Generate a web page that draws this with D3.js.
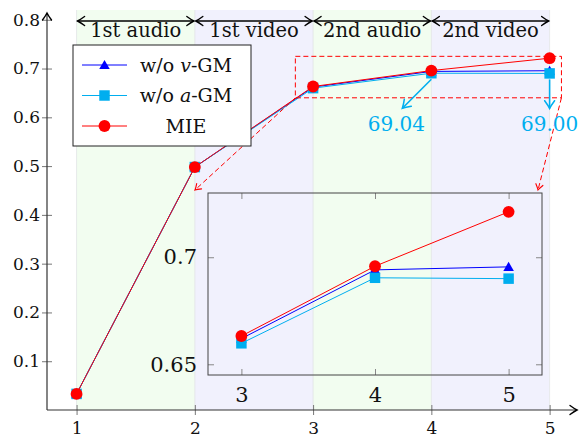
<!DOCTYPE html>
<html lang="en">
<head>
<meta charset="UTF-8">
<title>Ablation stages</title>
<script src="https://d3js.org/d3.v7.min.js"></script>
<style>
    body, html {
        margin: 0;
        padding: 0;
        background: #fff;
    }
    svg text {
        font-family: 'DejaVu Serif', serif;
        fill: #111;
    }
</style>
</head>
<body>
<script>
    'use strict'

    // data
    const stages = [1, 2, 3, 4, 5]
    const stageNames = ['1st audio', '1st video', '2nd audio', '2nd video']
    const woV = [0.033, 0.498, 0.662, 0.6941, 0.6955]
    const woA = [0.033, 0.498, 0.6598, 0.6904, 0.6900]
    const mie = [0.033, 0.498, 0.6632, 0.6958, 0.7212]
    const yTicks = [0.1, 0.2, 0.3, 0.4, 0.5, 0.6, 0.7, 0.8]
    const insetStages = [3, 4, 5]
    const insetYTicks = [0.65, 0.7]
    const notes = [{stage: 4, value: 0.6904, label: '69.04'}, {stage: 5, value: 0.6900, label: '69.00'}]
    const zoomBox = {x0: 2.85, x1: 5.1, y0: 0.64, y1: 0.725}

    const W = 579, H = 435
    const BLUE = '#0000ff', CYAN = '#00aeef', RED = '#ff0000'

    const series = [
        {name: 'v', values: woV, color: BLUE, shape: d3.symbolTriangle, size: 48},
        {name: 'a', values: woA, color: CYAN, shape: d3.symbolSquare, size: 110},
        {name: 'MIE', values: mie, color: RED, shape: d3.symbolCircle, size: 110}
    ]

    const svg = d3.select('body').append('svg')
        .attr('width', W)
        .attr('height', H)

    const defs = svg.append('defs')
    function addTip(id, color, s) {
        defs.append('marker')
            .attr('id', id)
            .attr('markerUnits', 'userSpaceOnUse')
            .attr('viewBox', '-10 -6 12 12')
            .attr('markerWidth', 12 * s).attr('markerHeight', 12 * s)
            .attr('refX', 0).attr('refY', 0)
            .attr('orient', 'auto-start-reverse')
            .append('path')
            .attr('d', 'M-7,-4.5 Q-2.5,-1.2 0,0 Q-2.5,1.2 -7,4.5')
            .attr('fill', 'none')
            .attr('stroke', color)
            .attr('stroke-width', 1.4)
            .attr('stroke-linecap', 'round')
    }
    addTip('tipK', '#000', 1)
    addTip('tipC', CYAN, 1.1)
    addTip('tipR', RED, 0.8)

    // main scales
    const x = d3.scaleLinear().domain([0.75, 5.24]).range([47, 578])
    const y = d3.scaleLinear().domain([0, 0.82]).range([410, 10])

    // inset scales
    const xi = d3.scaleLinear().domain([2.75, 5.25]).range([208, 542])
    const yi = d3.scaleLinear().domain([0.645, 0.73]).range([375, 193])

    //background bands
    const bands = svg.append('g')
    bands.selectAll('rect')
        .data(stageNames)
        .enter()
        .append('rect')
        .attr('x', (d, i) => x(stages[i]))
        .attr('width', (d, i) => x(stages[i + 1]) - x(stages[i]))
        .attr('y', y(0.82))
        .attr('height', y(0) - y(0.82))
        .attr('fill', (d, i) => i % 2 === 0 ? '#f2fdf0' : '#f1f1fd')
    bands.selectAll('line')
        .data(stages)
        .enter()
        .append('line')
        .attr('x1', d => x(d)).attr('x2', d => x(d))
        .attr('y1', y(0.82)).attr('y2', y(0))
        .attr('stroke', '#e2e4e6')
        .attr('stroke-width', 0.8)

    // series lines and markers
    function drawSeries(g, sx, sy, xs) {
        series.forEach(s => {
            const pts = xs.map(v => [v, s.values[stages.indexOf(v)]])
            g.append('path')
                .datum(pts)
                .attr('fill', 'none')
                .attr('stroke', s.color)
                .attr('stroke-width', 1)
                .attr('d', d3.line().x(d => sx(d[0])).y(d => sy(d[1])))
            g.selectAll(null)
                .data(pts)
                .enter()
                .append('path')
                .attr('transform', d => `translate(${sx(d[0])},${sy(d[1]) + (s.shape === d3.symbolTriangle ? 1 : 0)})`)
                .attr('d', d3.symbol().type(s.shape).size(s.size))
                .attr('fill', s.color)
        })
    }
    drawSeries(svg.append('g'), x, y, stages)

    // zoom box and connectors
    svg.append('rect')
        .attr('x', x(zoomBox.x0))
        .attr('y', y(zoomBox.y1))
        .attr('width', x(zoomBox.x1) - x(zoomBox.x0))
        .attr('height', y(zoomBox.y0) - y(zoomBox.y1))
        .attr('fill', 'none')
        .attr('stroke', RED)
        .attr('stroke-dasharray', '5,3')
    const connectors = [
        [[x(zoomBox.x0), y(zoomBox.y0)], [xi.range()[0] - 13, yi.range()[1] - 3]],
        [[x(zoomBox.x1), y(zoomBox.y0)], [xi.range()[1] - 4, yi.range()[1] - 3]]
    ]
    svg.selectAll(null)
        .data(connectors)
        .enter()
        .append('line')
        .attr('x1', d => d[0][0]).attr('y1', d => d[0][1])
        .attr('x2', d => d[1][0]).attr('y2', d => d[1][1])
        .attr('stroke', RED)
        .attr('stroke-dasharray', '5,3')
        .attr('marker-end', 'url(#tipR)')

    // inset
    const inset = svg.append('g')
    drawSeries(inset, xi, yi, insetStages)

    function insetAxis(axis, tf, labels) {
        const g = inset.append('g')
            .attr('transform', tf)
            .call(axis)
        g.select('.domain').remove()
        g.selectAll('.tick line').attr('stroke', '#888')
        g.selectAll('text')
            .attr('font-family', null)
            .attr('font-size', 21)
        if (!labels) g.selectAll('text').remove()
    }
    insetAxis(d3.axisBottom(xi).tickValues(insetStages).tickFormat(d3.format('d')).tickSize(-6).tickPadding(12),
        `translate(0,${yi.range()[0]})`, true)
    insetAxis(d3.axisTop(xi).tickValues(insetStages).tickSize(-6),
        `translate(0,${yi.range()[1]})`, false)
    insetAxis(d3.axisLeft(yi).tickValues(insetYTicks).tickFormat(d => d === 0.7 ? '0.7' : '0.65').tickSize(-6).tickPadding(11),
        `translate(${xi.range()[0]},0)`, true)
    insetAxis(d3.axisRight(yi).tickValues(insetYTicks).tickSize(-6),
        `translate(${xi.range()[1]},0)`, false)
    inset.append('rect')
        .attr('x', xi.range()[0])
        .attr('y', yi.range()[1])
        .attr('width', xi.range()[1] - xi.range()[0])
        .attr('height', yi.range()[0] - yi.range()[1])
        .attr('fill', 'none')
        .attr('stroke', '#444')
        .attr('stroke-width', 1)

    // stage brackets on top
    const brackets = svg.append('g')
    brackets.selectAll('line')
        .data(stageNames)
        .enter()
        .append('line')
        .attr('x1', (d, i) => x(stages[i]) + 1)
        .attr('x2', (d, i) => x(stages[i + 1]) - 1)
        .attr('y1', 21).attr('y2', 21)
        .attr('stroke', '#000')
        .attr('stroke-width', 1.4)
        .attr('marker-start', 'url(#tipK)')
        .attr('marker-end', 'url(#tipK)')
    brackets.selectAll('text')
        .data(stageNames)
        .enter()
        .append('text')
        .text(d => d)
        .attr('x', (d, i) => (x(stages[i]) + x(stages[i + 1])) / 2)
        .attr('y', 37)
        .attr('text-anchor', 'middle')
        .attr('font-size', 19.5)

    // cyan value notes
    const noteG = svg.append('g')
    notes.forEach((n, i) => {
        const px = x(n.stage), py = y(n.value)
        const dx = i === 0 ? -29 : 0
        noteG.append('line')
            .attr('x1', px).attr('y1', py + 6)
            .attr('x2', px + dx).attr('y2', py + 35)
            .attr('stroke', CYAN)
            .attr('stroke-width', 1.6)
            .attr('marker-end', 'url(#tipC)')
        noteG.append('text')
            .text(n.label)
            .attr('x', px + dx - (i === 0 ? 6 : 0))
            .attr('y', py + 58)
            .attr('text-anchor', 'middle')
            .attr('font-size', 20)
            .style('fill', CYAN)
    })

    // legend
    const legend = svg.append('g')
    legend.append('rect')
        .attr('x', 73).attr('y', 45)
        .attr('width', 178).attr('height', 101)
        .attr('fill', '#fff')
        .attr('stroke', '#222')
        .attr('stroke-width', 1)
    series.forEach((s, i) => {
        const ly = 65 + i * 30.5
        legend.append('line')
            .attr('x1', 82).attr('x2', 127)
            .attr('y1', ly).attr('y2', ly)
            .attr('stroke', s.color)
        legend.append('path')
            .attr('transform', `translate(104.5,${ly + (s.shape === d3.symbolTriangle ? 1 : 0)})`)
            .attr('d', d3.symbol().type(s.shape).size(s.size))
            .attr('fill', s.color)
        const t = legend.append('text')
            .attr('x', 186).attr('y', ly + 6.5)
            .attr('text-anchor', 'middle')
            .attr('font-size', 19)
        if (s.name === 'MIE') {
            t.text('MIE')
        } else {
            t.append('tspan').text('w/o ')
            t.append('tspan').text(s.name).style('font-style', 'italic')
            t.append('tspan').text('-GM')
        }
    })

    // main axes
    const yAxis = svg.append('g')
        .attr('transform', `translate(${x(0.75)},0)`)
        .call(d3.axisLeft(y).tickValues(yTicks).tickFormat(d3.format('.1f')).tickSize(4).tickPadding(3))
    yAxis.select('.domain').remove()
    yAxis.selectAll('.tick line').attr('x2', -5).attr('x1', 5).attr('stroke', '#777')
    yAxis.selectAll('text').attr('font-family', null).attr('font-size', 17)

    const xAxis = svg.append('g')
        .attr('transform', `translate(0,${y(0)})`)
        .call(d3.axisBottom(x).tickValues(stages).tickFormat(d3.format('d')).tickSize(4).tickPadding(8))
    xAxis.select('.domain').remove()
    xAxis.selectAll('.tick line').attr('y1', -5).attr('y2', 5).attr('stroke', '#777')
    xAxis.selectAll('text').attr('font-family', null).attr('font-size', 17)

    svg.append('line')
        .attr('x1', x(0.75)).attr('x2', x(0.75))
        .attr('y1', y(0)).attr('y2', 13)
        .attr('stroke', '#333')
        .attr('stroke-width', 1.2)
        .attr('marker-end', 'url(#tipK)')
    svg.append('line')
        .attr('x1', x(0.75)).attr('x2', 577)
        .attr('y1', y(0)).attr('y2', y(0))
        .attr('stroke', '#333')
        .attr('stroke-width', 1.2)
        .attr('marker-end', 'url(#tipK)')
</script>
</body>
</html>
